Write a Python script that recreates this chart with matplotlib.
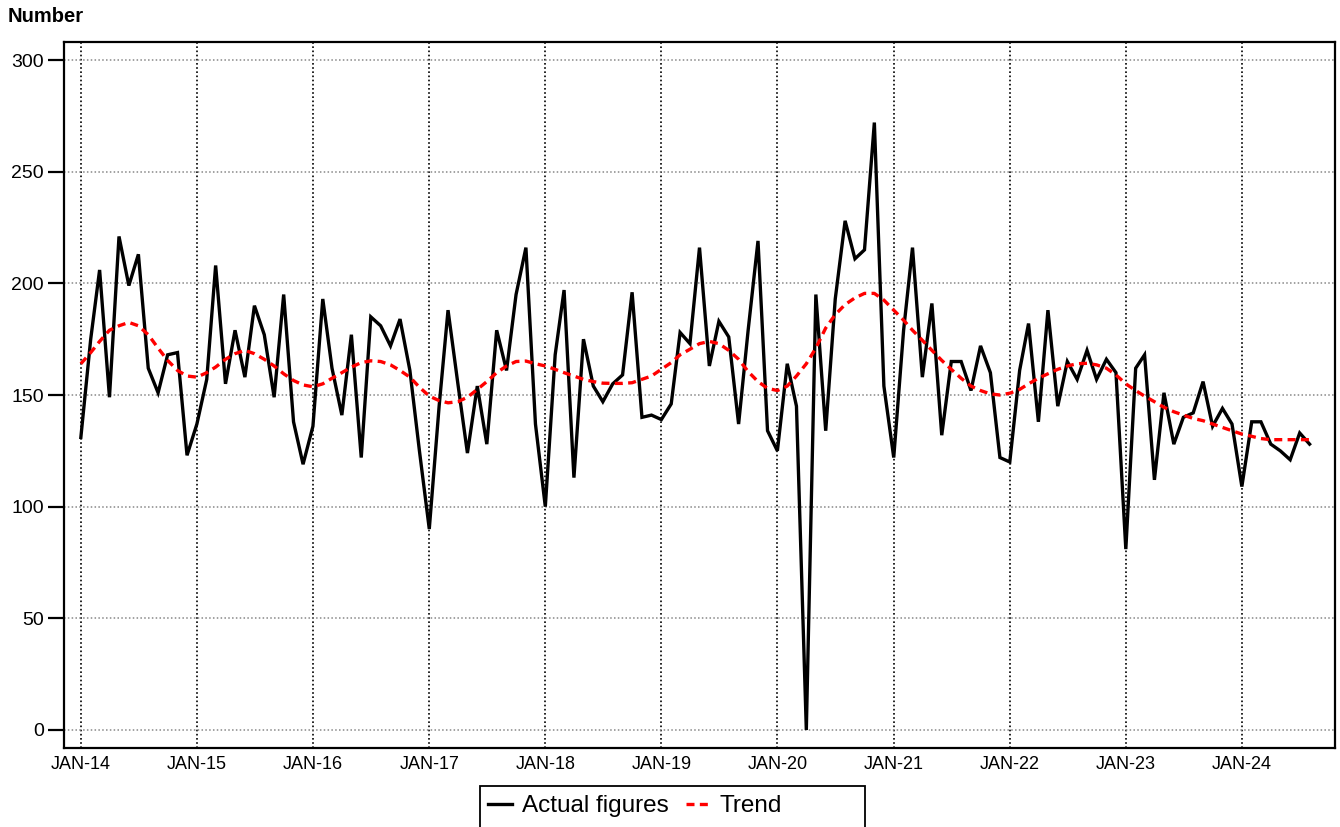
import matplotlib
matplotlib.use("Agg")
import matplotlib.pyplot as plt
from matplotlib.patches import Rectangle
import pandas as pd
import numpy as np

plt.rcParams['font.family'] = ['Liberation Sans', 'DejaVu Sans']

start_month = "2014-01-01"

actual = [
    131, 175, 206, 149, 221, 199, 213, 162, 151, 168, 169, 123,
    137, 157, 208, 155, 179, 158, 190, 177, 149, 195, 138, 119,
    136, 193, 162, 141, 177, 122, 185, 181, 172, 184, 161, 125,
    90, 145, 188, 155, 124, 154, 128, 179, 161, 195, 216, 137,
    100, 168, 197, 113, 175, 154, 147, 155, 159, 196, 140, 141,
    139, 146, 178, 173, 216, 163, 183, 176, 137, 179, 219, 134,
    125, 164, 145, 0, 195, 134, 193, 228, 211, 215, 272, 154,
    122, 179, 216, 158, 191, 132, 165, 165, 152, 172, 160, 122,
    120, 161, 182, 138, 188, 145, 165, 157, 170, 157, 166, 160,
    81, 162, 168, 112, 151, 128, 140, 142, 156, 136, 144, 137,
    109, 138, 138, 128, 125, 121, 133, 128,
]

trend = [
    164, 169, 174, 179, 181, 182.5, 181, 177, 171, 165.5, 161, 158.5,
    158, 160, 162.5, 166, 168.5, 170, 168.5, 166, 163, 159.5, 156.5, 154.5,
    153.7, 155, 157.5, 160, 162.5, 164.5, 165.3, 165, 163.5, 161, 158, 153.5,
    149.5, 147.5, 146.5, 147, 149, 152.5, 156, 160, 163, 165, 165.2, 164,
    163, 161.5, 160, 158.5, 157, 156, 155.3, 155.2, 155.2, 155.5, 157, 158.5,
    161.5, 164.5, 168, 170.5, 173, 174, 173, 170, 166, 160.5, 156, 153,
    152, 154, 158.5, 164, 171, 180, 186, 190.5, 193.5, 195.5, 195.5, 192.5,
    188, 183.5, 179, 174.5, 170, 165.5, 161.5, 157.5, 154, 152, 150.5, 150,
    150.8, 152.5, 155, 157.5, 159.5, 161.5, 163, 164, 164.2, 163.5, 162, 159,
    155, 152, 149.5, 147, 144.5, 142.5, 141, 139.5, 138.5, 137, 135.5, 134,
    132.5, 131.5, 130.5, 130, 130, 130, 130, 130,
]

tick_years = list(range(2014, 2025))
tick_labels = ["JAN-%02d" % (y % 100) for y in tick_years]
y_ticks = [0, 50, 100, 150, 200, 250, 300]

dates = pd.date_range(start_month, periods=len(actual), freq="MS")

W, H = 1340, 827
fig = plt.figure(figsize=(W / 100, H / 100), dpi=100)
ax = fig.add_axes([64 / W, 1 - 748 / H, (1335 - 64) / W, (748 - 41.7) / H])

ax.plot(dates, actual, color="black", lw=2.4, label="Actual figures", zorder=3,
        solid_joinstyle="miter")
ax.plot(dates, trend, color="#ff0000", lw=2.4, ls=(0, (2.4, 1.6)), label="Trend", zorder=4)

xt = [pd.Timestamp(f"{y}-01-01") for y in tick_years]
ax.set_xticks(xt)
ax.set_xticklabels(tick_labels, fontsize=13)
ax.set_yticks(y_ticks)
ax.set_yticklabels([str(v) for v in y_ticks], fontsize=14)

ax.set_xlim(pd.Timestamp("2014-01-01") - pd.Timedelta(days=53),
            pd.Timestamp("2014-01-01") + pd.Timedelta(days=int(129.6 * 30.44)))
ax.set_ylim(-8.06, 308.2)

ax.tick_params(axis="x", length=0, pad=6)
ax.tick_params(axis="y", length=11.5, width=1.6, pad=3, direction="out")

for s in ax.spines.values():
    s.set_linewidth(1.6)
    s.set_color("black")

ax.grid(axis="x", color="black", ls=(0, (1, 1.5)), lw=1.2)
ax.grid(axis="y", color="#888888", ls=(0, (1, 1.5)), lw=1.1)
ax.set_axisbelow(True)

fig.text(8 / W, 1 - 17 / H, "Number", fontsize=14.5, fontweight="bold", va="center", ha="left")

# legend box (wider than its content, as in the reference)
fig.patches.append(Rectangle((480 / W, 0 - 10 / H), (865 - 480) / W, (827 - 786 + 10) / H,
                             transform=fig.transFigure, fill=False, edgecolor="black",
                             linewidth=1.3, zorder=5))
leg = fig.legend(loc="center", bbox_to_anchor=(635 / W, 1 - 806 / H), ncol=2,
                 fontsize=17.5, frameon=False, handlelength=1.0,
                 handletextpad=0.4, columnspacing=0.7, borderpad=0, borderaxespad=0)

fig.savefig("out.png", dpi=100)
